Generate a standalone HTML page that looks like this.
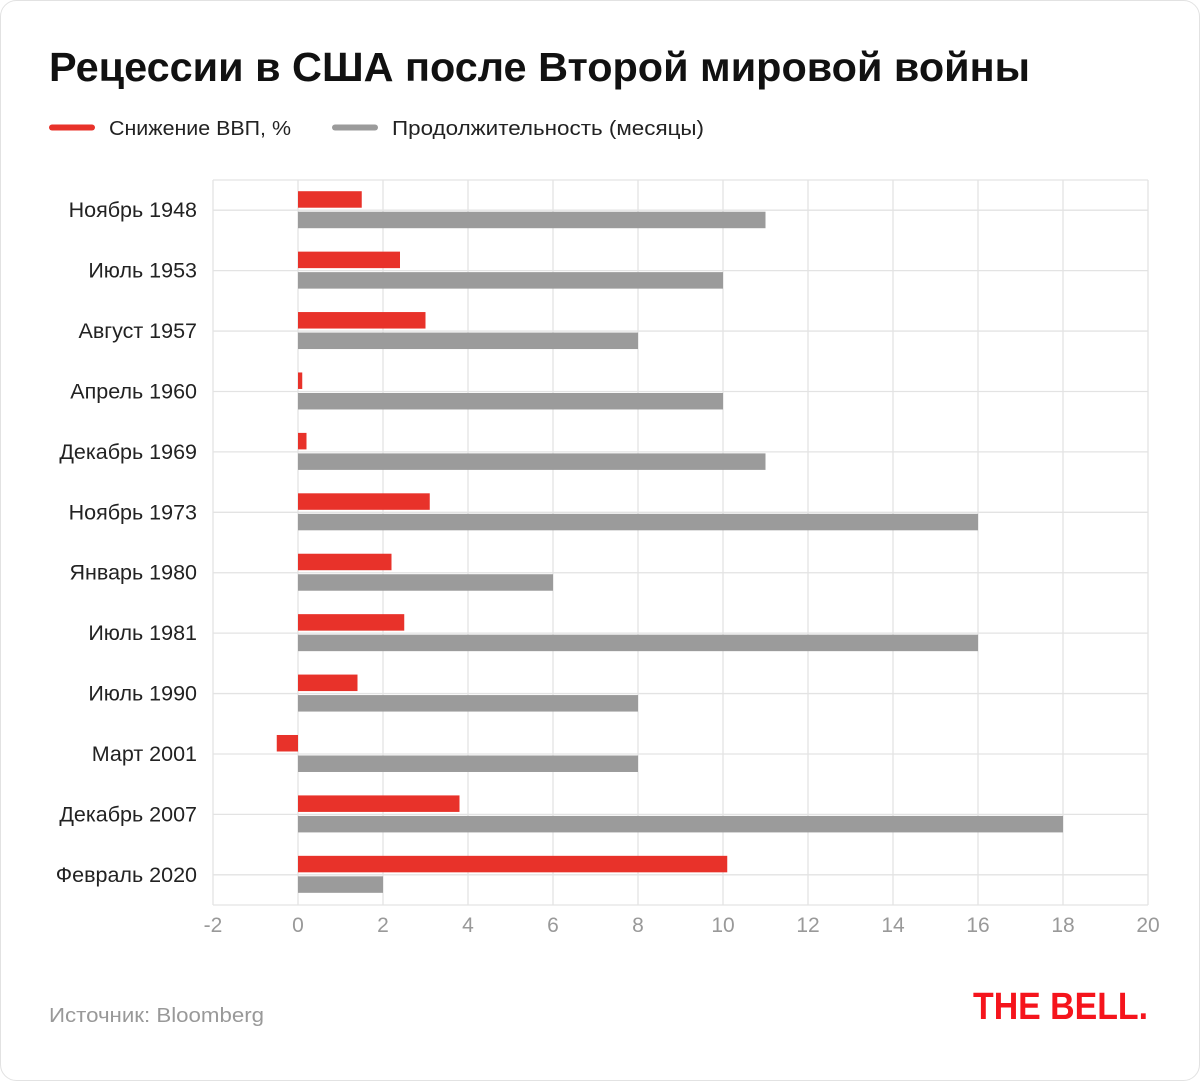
<!DOCTYPE html>
<html><head><meta charset="utf-8"><style>
html,body{margin:0;padding:0;background:#fff;}
svg{display:block;font-family:"Liberation Sans","DejaVu Sans",sans-serif;}
</style></head><body>
<svg width="1200" height="1081" viewBox="0 0 1200 1081" xmlns="http://www.w3.org/2000/svg">
<rect x="0.5" y="0.5" width="1199" height="1080" rx="16" fill="#fff" stroke="#e2e2e2"/>
<text x="49" y="81" font-size="41" font-weight="bold" fill="#111" textLength="981" lengthAdjust="spacingAndGlyphs">Рецессии в США после Второй мировой войны</text>
<line x1="52" y1="127.5" x2="92" y2="127.5" stroke="#e8322a" stroke-width="6" stroke-linecap="round"/>
<text x="109" y="135" font-size="20" fill="#222" textLength="182" lengthAdjust="spacingAndGlyphs">Снижение ВВП, %</text>
<line x1="335" y1="127.5" x2="375" y2="127.5" stroke="#9b9b9b" stroke-width="6" stroke-linecap="round"/>
<text x="392" y="135" font-size="20" fill="#222" textLength="312" lengthAdjust="spacingAndGlyphs">Продолжительность (месяцы)</text>
<g id="grid" stroke="#e3e3e3" stroke-width="1.3"></g>
<g id="bars"></g>
<g id="labels" font-size="21.5" fill="#222" text-anchor="end"></g>
<g id="ticks" font-size="21" fill="#999" text-anchor="middle"></g>
<text x="49" y="1022" font-size="20" fill="#999" textLength="215" lengthAdjust="spacingAndGlyphs">Источник: Bloomberg</text>
<text x="973" y="1019" font-size="38" font-weight="bold" fill="#f5141c" textLength="175" lengthAdjust="spacingAndGlyphs">THE BELL.</text>
<script>
(function(){
var ns="http://www.w3.org/2000/svg";
function el(p,t,a,txt){var e=document.createElementNS(ns,t);for(var k in a)e.setAttribute(k,a[k]);if(txt)e.textContent=txt;document.getElementById(p).appendChild(e);}
var X=function(v){return 298+42.5*v;};
var T=180,B=905,rh=60.42;
for(var v=-2;v<=20;v+=2){el("grid","line",{x1:X(v),x2:X(v),y1:T,y2:B});el("ticks","text",{x:X(v),y:932},String(v));}
el("grid","line",{x1:213,x2:1148,y1:T,y2:T});el("grid","line",{x1:213,x2:1148,y1:B,y2:B});
var names=["Ноябрь 1948","Июль 1953","Август 1957","Апрель 1960","Декабрь 1969","Ноябрь 1973","Январь 1980","Июль 1981","Июль 1990","Март 2001","Декабрь 2007","Февраль 2020"];
var red=[1.5,2.4,3.0,0.1,0.2,3.1,2.2,2.5,1.4,-0.5,3.8,10.1];
var gray=[11,10,8,10,11,16,6,16,8,8,18,2];
for(var i=0;i<12;i++){var c=T+rh*(i+0.5);
el("grid","line",{x1:213,x2:1148,y1:c,y2:c});
var r=red[i];el("bars","rect",{x:Math.min(X(0),X(r)),y:c-19,width:Math.abs(X(r)-X(0)),height:16.5,fill:"#e8322a"});
el("bars","rect",{x:X(0),y:c+1.5,width:X(gray[i])-X(0),height:16.5,fill:"#9b9b9b"});
el("labels","text",{x:197,y:c+7},names[i]);}
})();
</script>
</svg>
</body></html>
